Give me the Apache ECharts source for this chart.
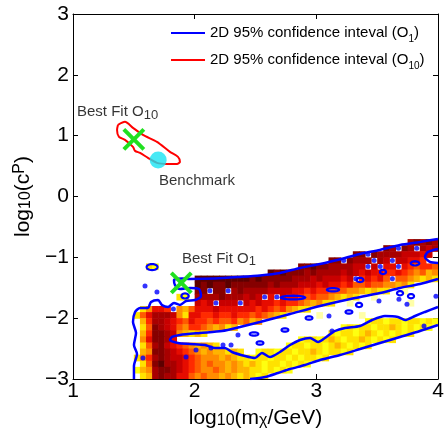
<!DOCTYPE html>
<html><head><meta charset="utf-8">
<script src="https://cdn.jsdelivr.net/npm/echarts@6/dist/echarts.min.js"></script>
<style>html,body{margin:0;padding:0;background:#fff}#c{width:444px;height:432px}</style>
</head><body><div id="c"></div>
<script>
// ---------- data ----------
const xTicks = [1, 2, 3, 4];
const yTicks = [-3, -2, -1, 0, 1, 2, 3];

// likelihood map: cells 0.05 (x) by 0.1 (y); strings start at x = 1.5, first row is y in [-0.8,-0.7]
const cellW = 0.05, cellH = 0.1;
const heatX0 = 1.5;
const heatYTop = -0.8;
const heatRows = [
  "..........|..........|..........|..........|.....cbcbc",
  "..........|..........|..........|..........|.bc.bc.cdc",
  "..........|..........|..........|......bb.b|ccccddded.",
  "..........|..........|..........|..bb.bccc.|cd.ddeef..",
  "..jk......|..........|.......bba|bbccccdd.d|.ee.efgffg",
  "..........|..........|..ababbbcb|ccccdcdede|effefghgih",
  "..........|aaaaaaaaab|abbbbbcccd|cddded.fef|eg.gghijij",
  "..........|ababbabbbb|bbcbcccddd|edeefeggfg|ghhihj....",
  "..........|bb.bb.cbcc|ccddddeefe|ffggghhiji|jj..l.....",
  ".......jk.|ccccbcccdc|d.e.deefgf|gghijij..l|..........",
  "..........|ded.ddd.de|deefeffghi|hjj..l....|.....l....",
  ".jheef.hig|eeedeeeeee|fefgfhijj.|..........|..........",
  "jgecccdhje|effeffeffg|fghij.....|l......l..|..........",
  ".ifccdefge|ffgfggfhgi|h.........|........kj|jkjjkjjkjk",
  ".jgbcdeghf|fghihji...|..........|....kjkjjk|jjijkjkjk.",
  ".ifbbcdhij|ij........|..........|..jkjjkjij|kjkjkj....",
  ".hebbce...|..........|.......kjj|kjijkjjijk|jkj.......",
  ".jgcbdefgh|ihij......|.....kjjkj|jkjijkjkj.|..........",
  ".ihbbcdefg|hihiijij..|kjjkjjkjji|jkjjkj....|..........",
  "jhfcbcddef|ghhhihijjk|jjkjjkjkjj|kj........|..........",
  ".jgbaccdef|ghghhihiji|jkjjkjkjk.|..........|..........",
  "kihcbbcdef|ghhghihiij|jkjkjk....|..........|..........",
  ".jicbcceeg|hghhihijij|kj........|..........|.........."
];
const heatLevels = { a:'#5c0000', b:'#860000', c:'#a80000', d:'#c80000', e:'#e60c00', f:'#ff2a00',
  g:'#ff5a00', h:'#ff8c00', i:'#ffb400', j:'#ffe200', k:'#ffff10', l:'#ffffa8' };

// 2D 95% contour, O1 (open polylines clipped by the frame)
const o1Upper = [[1.501,-3.0],[1.501,-2.786],[1.526,-2.589],[1.501,-2.441],[1.518,-2.243],[1.493,-2.063],
  [1.510,-1.898],[1.551,-1.832],[1.616,-1.832],[1.641,-1.734],[1.699,-1.701],[1.731,-1.783],[1.781,-1.816],
  [1.830,-1.750],[1.879,-1.783],[1.929,-1.717],[2.003,-1.701],[2.052,-1.635],[2.036,-1.520],[1.962,-1.503],
  [1.879,-1.520],[1.838,-1.454],[1.830,-1.372],[1.896,-1.347],[1.962,-1.355],[2.167,-1.347],[2.373,-1.322],
  [2.537,-1.298],[2.701,-1.257],[2.866,-1.174],[3.030,-1.109],[3.236,-1.010],[3.359,-0.944],[3.523,-0.878],
  [3.688,-0.796],[3.852,-0.747],[4.0,-0.697]];
const o1Lower = [[2.455,-3.0],[2.578,-2.967],[2.685,-2.901],[2.784,-2.836],[2.907,-2.770],[3.030,-2.688],
  [3.194,-2.605],[3.359,-2.507],[3.523,-2.408],[3.688,-2.309],[3.852,-2.211],[4.0,-2.112]];
const o1Hole = [[4.0,-1.355],[3.852,-1.438],[3.688,-1.503],[3.523,-1.586],[3.318,-1.668],[3.030,-1.799],
  [2.784,-1.931],[2.537,-2.063],[2.373,-2.145],[2.225,-2.211],[2.044,-2.243],[1.879,-2.276],[1.814,-2.309],
  [1.797,-2.359],[1.863,-2.408],[1.962,-2.424],[2.085,-2.441],[2.167,-2.490],[2.249,-2.490],[2.307,-2.556],
  [2.414,-2.622],[2.496,-2.655],[2.553,-2.572],[2.619,-2.638],[2.701,-2.556],[2.784,-2.441],[2.866,-2.359],
  [2.948,-2.326],[3.014,-2.392],[3.071,-2.326],[3.153,-2.211],[3.236,-2.161],[3.359,-2.128],[3.458,-2.030],
  [3.564,-1.964],[3.671,-1.980],[3.729,-2.030],[3.811,-1.964],[3.893,-1.898],[4.0,-1.816]];
const o1Notch = [[4.0,-0.862],[3.918,-0.911],[3.893,-0.993],[3.934,-1.076],[4.0,-1.092]];
// small closed O1 islands: centre x, centre y, half-width, half-height (data units)
const o1Islands = [[1.65,-1.16,0.045,0.05],[1.921,-1.635,0.03,0.042],[2.488,-2.26,0.035,0.028],
  [2.537,-2.408,0.028,0.028],[2.742,-2.194,0.028,0.028],[2.94,-1.997,0.028,0.028],[3.268,-1.898,0.028,0.028],
  [3.351,-1.783,0.025,0.035],[2.808,-1.661,0.1,0.03],[3.137,-1.533,0.05,0.028],[3.811,-1.099,0.035,0.035],
  [3.548,-1.24,0.025,0.035],[3.359,-1.372,0.028,0.035],[3.688,-1.589,0.025,0.035],[3.778,-1.638,0.025,0.035]];
// tiny O1 islands (single cells)
const o1Dots = [[3.825,-0.85],[3.675,-0.85],[3.425,-0.95],[3.475,-1.05],[3.625,-1.05],[3.225,-1.05],
  [3.675,-1.15],[3.425,-1.15],[3.525,-1.15],[3.325,-1.35],[3.625,-1.35],[2.125,-1.55],[2.275,-1.55],
  [2.575,-1.65],[2.675,-1.65],[2.175,-1.75],[2.375,-1.75],[1.825,-1.85],
  [2.134,-2.49],[2.233,-2.441],[2.299,-2.441],[2.356,-2.276],[3.104,-1.964],[3.129,-2.211],[3.515,-1.717],
  [3.679,-1.688],[3.745,-1.77],[3.885,-2.128],[3.983,-1.638],
  [1.592,-1.47],[1.69,-1.569],[1.575,-2.655],[1.929,-2.638],[2.011,-2.523]];
// 2D 95% contour, O10 (closed)
const o10Contour = [[1.370,1.178],[1.427,1.227],[1.493,1.128],[1.575,1.013],[1.690,0.898],[1.797,0.734],
  [1.863,0.651],[1.879,0.569],[1.855,0.536],[1.773,0.536],[1.690,0.553],[1.616,0.635],[1.551,0.717],
  [1.510,0.750],[1.493,0.816],[1.427,0.931],[1.378,0.980],[1.362,1.095],[1.370,1.178]];
const bestFits = [[1.50, 0.94], [1.89, -1.42]];
const benchmark = [[1.70, 0.60]];
const annotations = [[1.033, 1.39, 'Best Fit O', '10'], [1.707, 0.257, 'Benchmark', ''], [1.896, -1.026, 'Best Fit O', '1']];
const legendNames = ['O1', 'O10'];
const legendTexts = { O1: ['2D 95% confidence inteval (O', '1', ')'], O10: ['2D 95% confidence inteval (O', '10', ')'] };

// ---------- chart ----------
const FONT = 'Liberation Sans, Arial, Helvetica, sans-serif';
const BLUE = '#0000ff', RED = '#ff0000';
const cells = [];
heatRows.forEach((row, r) => {
  const s = row.replace(/\|/g, '');
  const y0 = +(heatYTop - r * cellH).toFixed(3);
  for (let c = 0; c < s.length; c++) {
    if (s[c] !== '.') cells.push([+(heatX0 + c * cellW).toFixed(3), y0, s[c]]);
  }
});
const minus = v => (v < 0 ? '\u2212' + Math.abs(v) : String(v));
const axisBase = { type: 'value', min: 1, max: 4, interval: 1, splitLine: { show: false },
  axisLine: { show: true, onZero: false, lineStyle: { color: '#000', width: 1 } },
  axisTick: { show: true, inside: true, length: 5, lineStyle: { color: '#000' } } };
const subRich = { s: { fontSize: 16, lineHeight: 1, verticalAlign: 'bottom', fontFamily: FONT, color: '#000' },
  p: { fontSize: 16, lineHeight: 1, verticalAlign: 'top', fontFamily: FONT, color: '#000' } };
const lineSeries = (name, data, color, width) => ({ type: 'line', name, data, color, showSymbol: false, symbol: 'none',
  smooth: 0.25, lineStyle: { color, width }, z: 3, silent: true, animation: false });

const option = {
  animation: false,
  textStyle: { fontFamily: FONT },
  grid: { left: 73, top: 14, width: 365, height: 365, outerBoundsMode: 'none' },
  xAxis: [
    Object.assign({}, axisBase, { position: 'bottom',
      axisLabel: { fontSize: 21, color: '#000', margin: 2, fontFamily: FONT },
      name: 'log{s|10}(m{s|\u03c7}/GeV)', nameLocation: 'middle', nameGap: 20,
      nameTextStyle: { fontSize: 21, lineHeight: 22, color: '#000', fontFamily: FONT, rich: subRich } }),
    Object.assign({}, axisBase, { position: 'top', axisLabel: { show: false } })
  ],
  yAxis: [
    Object.assign({}, axisBase, { min: -3, max: 3, position: 'left',
      axisLabel: { fontSize: 21, color: '#000', margin: 4, fontFamily: FONT, formatter: minus },
      name: 'log{s|10}(c{p|P})', nameLocation: 'middle', nameGap: 39, nameRotate: 90,
      nameTextStyle: { fontSize: 21, lineHeight: 22, color: '#000', fontFamily: FONT, rich: subRich } }),
    Object.assign({}, axisBase, { min: -3, max: 3, position: 'right', axisLabel: { show: false } })
  ],
  legend: {
    orient: 'vertical', left: 166, top: 17, itemWidth: 34, itemHeight: 2, itemGap: 5, icon: 'rect',
    data: legendNames,
    formatter: n => legendTexts[n][0] + '{s|' + legendTexts[n][1] + '}' + legendTexts[n][2],
    textStyle: { fontSize: 15, lineHeight: 14, verticalAlign: 'top', color: '#000', fontFamily: FONT,
      rich: { s: { fontSize: 10, lineHeight: 22, verticalAlign: 'bottom', fontFamily: FONT, color: '#000' } } }
  },
  series: [
    { type: 'custom', name: 'map', silent: true, z: 1, clip: true,
      data: cells.map(c => [c[0], c[1]]),
      renderItem: (p, api) => {
        const x0 = api.value(0), y0 = api.value(1);
        const a = api.coord([x0, y0 + cellH]);
        const b = api.coord([x0 + cellW, y0]);
        return { type: 'rect', shape: { x: a[0], y: a[1], width: b[0] - a[0] + 0.6, height: b[1] - a[1] + 0.6 },
          style: { fill: heatLevels[cells[p.dataIndex][2]] } };
      } },
    lineSeries('O1', o1Upper, BLUE, 2.5),
    lineSeries('O1', o1Lower, BLUE, 2.5),
    lineSeries('O1', o1Hole, BLUE, 2.5),
    lineSeries('O1', o1Notch, BLUE, 2.5),
    { type: 'custom', name: 'O1', silent: true, z: 3, clip: true, data: o1Islands,
      renderItem: (p, api) => {
        const c = api.coord([api.value(0), api.value(1)]);
        const s = api.size([api.value(2), api.value(3)]);
        const pts = [];
        for (let k = 0; k < 24; k++) { const t = k / 24 * 2 * Math.PI; pts.push([c[0] + s[0] * Math.cos(t), c[1] + s[1] * Math.sin(t)]); }
        return { type: 'polygon', shape: { points: pts }, style: { fill: 'none', stroke: BLUE, lineWidth: 2.2 } };
      } },
    { type: 'scatter', name: 'O1', data: o1Dots, symbolSize: 5, itemStyle: { color: BLUE }, z: 4, silent: true },
    lineSeries('O10', o10Contour, RED, 2),
    { type: 'scatter', name: 'benchmark', data: benchmark, symbolSize: 17, itemStyle: { color: '#19e3f2' }, z: 5, silent: true },
    { type: 'custom', name: 'bestfit', data: bestFits, z: 6, silent: true,
      renderItem: (p, api) => {
        const c = api.coord([api.value(0), api.value(1)]);
        const h = 10, st = { stroke: '#20e020', lineWidth: 4 };
        return { type: 'group', children: [
          { type: 'line', shape: { x1: c[0] - h, y1: c[1] - h, x2: c[0] + h, y2: c[1] + h }, style: st },
          { type: 'line', shape: { x1: c[0] - h, y1: c[1] + h, x2: c[0] + h, y2: c[1] - h }, style: st } ] };
      } },
    { type: 'scatter', name: 'labels', symbolSize: 0, z: 7, silent: true,
      data: annotations.map(a => ({ value: [a[0], a[1]],
        label: { formatter: a[2] + (a[3] ? '{s|' + a[3] + '}' : '') } })),
      label: { show: true, position: 'right', distance: 0, fontSize: 15, lineHeight: 19, color: '#000', fontFamily: FONT,
        rich: { s: { fontSize: 13, lineHeight: 1, verticalAlign: 'bottom', fontFamily: FONT, color: '#000' } } } }
  ]
};
const chart = echarts.init(document.getElementById('c'));
chart.setOption(option);
</script></body></html>
